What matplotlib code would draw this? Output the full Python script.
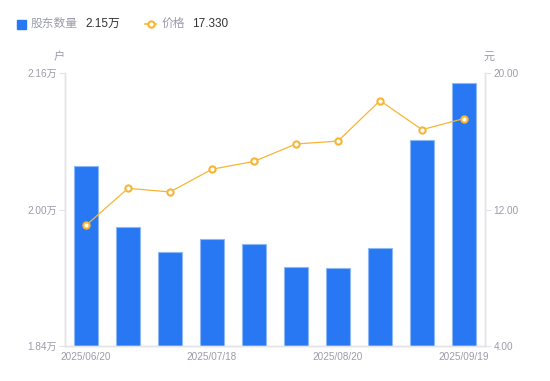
import numpy as np
import matplotlib
matplotlib.use('Agg')
import matplotlib.pyplot as plt

plt.rcParams['font.family'] = ['Liberation Sans', 'Noto Sans CJK SC', 'DejaVu Sans']

# data
dates = ['2025/06/20', '2025/06/30', '2025/07/10', '2025/07/18', '2025/07/31',
         '2025/08/10', '2025/08/20', '2025/08/31', '2025/09/10', '2025/09/19']
holders = [2.051, 1.980, 1.950, 1.965, 1.959, 1.933, 1.931, 1.955, 2.081, 2.148]  # 万户
price = [11.07, 13.24, 13.03, 14.36, 14.82, 15.84, 16.01, 18.38, 16.68, 17.33]
tick_idx = [0, 3, 6, 9]

blue = '#2878f4'
orange = '#f7b535'
grey = '#9b9bab'
spine_c = '#e3e3e8'

fig = plt.figure(figsize=(5.5, 3.81), dpi=100)
ax = fig.add_axes([65 / 550, 1 - 346 / 381, 420 / 550, 273 / 381])
ax2 = ax.twinx()

x = np.arange(len(holders))
ax.bar(x, holders, width=0.58, color=blue, edgecolor='#8db8f7', linewidth=0.8, zorder=2)
ax.set_ylim(1.84, 2.16)
ax.set_xlim(-0.5, len(holders) - 0.5)
ax.set_yticks([1.84, 2.00, 2.16])
ax.set_yticklabels(['1.84万', '2.00万', '2.16万'])
ax.set_xticks(tick_idx)
ax.set_xticklabels([dates[i] for i in tick_idx])

ax2.plot(x, price, color=orange, linewidth=0.9, marker='o', markersize=4.5,
         markerfacecolor='white', markeredgecolor=orange, markeredgewidth=1.5, zorder=3)
ax2.set_ylim(4, 20)
ax2.set_yticks([4, 12, 20])
ax2.set_yticklabels(['4.00', '12.00', '20.00'])

for a in (ax, ax2):
    a.spines['top'].set_visible(False)
    for s in ('left', 'right', 'bottom'):
        a.spines[s].set_color(spine_c)
        a.spines[s].set_linewidth(1)
    a.tick_params(colors=grey, labelsize=7.2, length=4, width=0.8)
    a.tick_params(axis='y', color=spine_c, pad=2)
ax.tick_params(axis='x', length=0, pad=4)
ax.set_zorder(ax2.get_zorder() - 1)
ax2.patch.set_visible(False)

# axis units
fig.text(59 / 550, 1 - 57 / 381, '户', color=grey, fontsize=8, ha='center', va='center')
fig.text(489 / 550, 1 - 57 / 381, '元', color=grey, fontsize=8, ha='center', va='center')

# legend row
ly = 1 - 24 / 381
fig.patches.append(plt.Rectangle((17 / 550, 1 - 29 / 381), 9 / 550, 9 / 381,
                                 transform=fig.transFigure, color=blue))
fig.text(31 / 550, ly, '股东数量', color=grey, fontsize=8.5, va='center')
fig.text(85 / 550, ly, '%.2f万' % holders[-1], color='#333333', fontsize=8.5, va='center')
fig.lines.append(plt.Line2D([145 / 550, 156 / 550], [ly, ly], transform=fig.transFigure,
                            color=orange, linewidth=1.2))
fig.lines.append(plt.Line2D([150.5 / 550], [ly], transform=fig.transFigure, color=orange,
                            marker='o', markersize=4.5, markerfacecolor='white',
                            markeredgewidth=1.5, linestyle='none'))
fig.text(162 / 550, ly, '价格', color=grey, fontsize=8.5, va='center')
fig.text(192 / 550, ly, '%.3f' % price[-1], color='#333333', fontsize=8.5, va='center')

fig.savefig('out.png', dpi=100)
